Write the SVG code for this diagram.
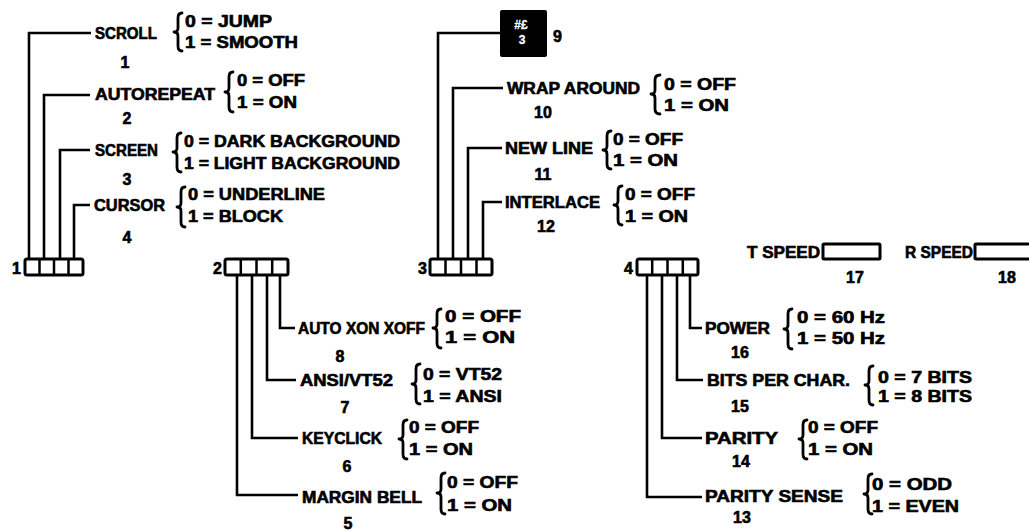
<svg xmlns="http://www.w3.org/2000/svg" width="1029" height="531" viewBox="0 0 1029 531">
<style>
text{font-family:"Liberation Sans",Arial,sans-serif;font-weight:bold;font-size:16px;fill:#000;stroke:#000;stroke-width:0.6}
.n{text-anchor:middle}
.sm{font-size:12px;fill:#fff;stroke:#fff;stroke-width:0.3;text-anchor:middle}
.c{fill:none;stroke:#000;stroke-width:2.6;stroke-linejoin:miter}
.br{fill:none;stroke:#000;stroke-width:2.8;stroke-linecap:round;stroke-linejoin:round}
.box{fill:#fff;stroke:#000;stroke-width:3}
.dv{stroke:#000;stroke-width:2.5}
</style>
<rect width="1029" height="531" fill="#fff"/>

<g id="connectors">
<path class="c" d="M29 259V33H91"/>
<path class="c" d="M44 259V95H90"/>
<path class="c" d="M60 259V150H90"/>
<path class="c" d="M74 259V205H90"/>
<path class="c" d="M438 259V33H500"/>
<path class="c" d="M453 259V88H503"/>
<path class="c" d="M468 259V148H502"/>
<path class="c" d="M483 259V202H502"/>
<path class="c" d="M237 275V495H298"/>
<path class="c" d="M252 275V438H298"/>
<path class="c" d="M267 275V380H296"/>
<path class="c" d="M280 275V328H295"/>
<path class="c" d="M647 275V497H702"/>
<path class="c" d="M662 275V438H702"/>
<path class="c" d="M677 275V380H703"/>
<path class="c" d="M690 275V328H702"/>
</g>

<g id="switch1">
<rect class="box" x="25" y="259" width="58" height="16" rx="2"/>
<path class="dv" d="M39.5 259V275M54 259V275M68.5 259V275"/>
<text x="12" y="274">1</text>
</g>
<g id="switch2">
<rect class="box" x="225" y="259" width="63" height="16" rx="2"/>
<path class="dv" d="M240.8 259V275M256.5 259V275M272.2 259V275"/>
<text x="213" y="274">2</text>
</g>
<g id="switch3">
<rect class="box" x="430" y="259" width="62" height="16" rx="2"/>
<path class="dv" d="M445.5 259V275M461 259V275M476.5 259V275"/>
<text x="418" y="274">3</text>
</g>
<g id="switch4">
<rect class="box" x="637" y="259" width="61" height="16" rx="2"/>
<path class="dv" d="M652.2 259V275M667.5 259V275M682.8 259V275"/>
<text x="624" y="274">4</text>
</g>

<g id="scroll">
<text x="95" y="39" textLength="62" lengthAdjust="spacingAndGlyphs">SCROLL</text>
<path class="br" d="M182 13Q178 13 178 18L178 28Q178 32 174 32Q178 32 178 36L178 46Q178 51 182 51"/>
<text x="185" y="27" textLength="87" lengthAdjust="spacingAndGlyphs">0 = JUMP</text>
<text x="185" y="48" textLength="113" lengthAdjust="spacingAndGlyphs">1 = SMOOTH</text>
<text class="n" x="125" y="68">1</text>
</g>
<g id="autorepeat">
<text x="95" y="100" textLength="120" lengthAdjust="spacingAndGlyphs">AUTOREPEAT</text>
<path class="br" d="M233 72Q229 72 229 77L229 88Q229 92 225 92Q229 92 229 96L229 107Q229 112 233 112"/>
<text x="237" y="86" textLength="68" lengthAdjust="spacingAndGlyphs">0 = OFF</text>
<text x="237" y="108" textLength="60" lengthAdjust="spacingAndGlyphs">1 = ON</text>
<text class="n" x="127" y="124">2</text>
</g>
<g id="screen">
<text x="95" y="156" textLength="63" lengthAdjust="spacingAndGlyphs">SCREEN</text>
<path class="br" d="M181 133Q177 133 177 138L177 148Q177 152 173 152Q177 152 177 156L177 167Q177 172 181 172"/>
<text x="184" y="147" textLength="216" lengthAdjust="spacingAndGlyphs">0 = DARK BACKGROUND</text>
<text x="184" y="169" textLength="216" lengthAdjust="spacingAndGlyphs">1 = LIGHT BACKGROUND</text>
<text class="n" x="127" y="185">3</text>
</g>
<g id="cursor">
<text x="94" y="211" textLength="71" lengthAdjust="spacingAndGlyphs">CURSOR</text>
<path class="br" d="M185 187Q181 187 181 192L181 203Q181 207 177 207Q181 207 181 211L181 222Q181 227 185 227"/>
<text x="188" y="200" textLength="137" lengthAdjust="spacingAndGlyphs">0 = UNDERLINE</text>
<text x="188" y="222" textLength="95" lengthAdjust="spacingAndGlyphs">1 = BLOCK</text>
<text class="n" x="127" y="243">4</text>
</g>

<g id="uk-charset">
<rect x="500" y="10" width="47" height="47" rx="2" fill="#000"/>
<text class="sm" x="521" y="29">#£</text>
<text class="sm" x="522" y="44" font-size="14">3</text>
<text x="553" y="42">9</text>
</g>
<g id="wraparound">
<text x="507" y="94" textLength="133" lengthAdjust="spacingAndGlyphs">WRAP AROUND</text>
<path class="br" d="M660 75Q655 75 655 80L655 90Q655 94 651 94Q655 94 655 98L655 109Q655 114 660 114"/>
<text x="664" y="90" textLength="72" lengthAdjust="spacingAndGlyphs">0 = OFF</text>
<text x="664" y="111" textLength="65" lengthAdjust="spacingAndGlyphs">1 = ON</text>
<text class="n" x="543" y="118">10</text>
</g>
<g id="newline">
<text x="505" y="154" textLength="88" lengthAdjust="spacingAndGlyphs">NEW LINE</text>
<path class="br" d="M611 131Q607 131 607 136L607 146Q607 150 603 150Q607 150 607 154L607 164Q607 169 611 169"/>
<text x="613" y="145" textLength="70" lengthAdjust="spacingAndGlyphs">0 = OFF</text>
<text x="613" y="166" textLength="65" lengthAdjust="spacingAndGlyphs">1 = ON</text>
<text class="n" x="543" y="180">11</text>
</g>
<g id="interlace">
<text x="505" y="208" textLength="95" lengthAdjust="spacingAndGlyphs">INTERLACE</text>
<path class="br" d="M622 186Q618 186 618 191L618 201Q618 205 614 205Q618 205 618 209L618 220Q618 225 622 225"/>
<text x="625" y="200" textLength="70" lengthAdjust="spacingAndGlyphs">0 = OFF</text>
<text x="625" y="222" textLength="63" lengthAdjust="spacingAndGlyphs">1 = ON</text>
<text class="n" x="546" y="232">12</text>
</g>

<g id="autoxon">
<text x="298" y="334" textLength="127" lengthAdjust="spacingAndGlyphs">AUTO XON XOFF</text>
<path class="br" d="M441 309Q437 309 437 314L437 324Q437 328 433 328Q437 328 437 332L437 343Q437 348 441 348"/>
<text x="445" y="322" textLength="76" lengthAdjust="spacingAndGlyphs">0 = OFF</text>
<text x="445" y="343" textLength="70" lengthAdjust="spacingAndGlyphs">1 = ON</text>
<text class="n" x="340" y="362">8</text>
</g>
<g id="ansi">
<text x="300" y="386" textLength="93" lengthAdjust="spacingAndGlyphs">ANSI/VT52</text>
<path class="br" d="M420 364Q416 364 416 369L416 380Q416 384 412 384Q416 384 416 388L416 399Q416 404 420 404"/>
<text x="423" y="380" textLength="79" lengthAdjust="spacingAndGlyphs">0 = VT52</text>
<text x="423" y="402" textLength="79" lengthAdjust="spacingAndGlyphs">1 = ANSI</text>
<text class="n" x="345" y="413">7</text>
</g>
<g id="keyclick">
<text x="302" y="444" textLength="80" lengthAdjust="spacingAndGlyphs">KEYCLICK</text>
<path class="br" d="M407 420Q403 420 403 425L403 435Q403 439 399 439Q403 439 403 443L403 454Q403 459 407 459"/>
<text x="409" y="433" textLength="70" lengthAdjust="spacingAndGlyphs">0 = OFF</text>
<text x="409" y="455" textLength="64" lengthAdjust="spacingAndGlyphs">1 = ON</text>
<text class="n" x="347" y="472">6</text>
</g>
<g id="marginbell">
<text x="302" y="503" textLength="120" lengthAdjust="spacingAndGlyphs">MARGIN BELL</text>
<path class="br" d="M445 473Q441 473 441 478L441 489Q441 493 437 493Q441 493 441 497L441 509Q441 514 445 514"/>
<text x="447" y="488" textLength="71" lengthAdjust="spacingAndGlyphs">0 = OFF</text>
<text x="447" y="511" textLength="65" lengthAdjust="spacingAndGlyphs">1 = ON</text>
<text class="n" x="348" y="529">5</text>
</g>

<g id="power">
<text x="705" y="334" textLength="65" lengthAdjust="spacingAndGlyphs">POWER</text>
<path class="br" d="M792 309Q788 309 788 314L788 325Q788 329 784 329Q788 329 788 333L788 344Q788 349 792 349"/>
<text x="797" y="323" textLength="88" lengthAdjust="spacingAndGlyphs">0 = 60 Hz</text>
<text x="797" y="344" textLength="88" lengthAdjust="spacingAndGlyphs">1 = 50 Hz</text>
<text class="n" x="740" y="358">16</text>
</g>
<g id="bitsperchar">
<text x="707" y="386" textLength="143" lengthAdjust="spacingAndGlyphs">BITS PER CHAR.</text>
<path class="br" d="M873 366Q869 366 869 371L869 381Q869 385 865 385Q869 385 869 389L869 400Q869 405 873 405"/>
<text x="878" y="383" textLength="94" lengthAdjust="spacingAndGlyphs">0 = 7 BITS</text>
<text x="878" y="402" textLength="94" lengthAdjust="spacingAndGlyphs">1 = 8 BITS</text>
<text class="n" x="740" y="412">15</text>
</g>
<g id="parity">
<text x="705" y="444" textLength="73" lengthAdjust="spacingAndGlyphs">PARITY</text>
<path class="br" d="M807 420Q803 420 803 425L803 435Q803 439 799 439Q803 439 803 443L803 454Q803 459 807 459"/>
<text x="808" y="433" textLength="70" lengthAdjust="spacingAndGlyphs">0 = OFF</text>
<text x="808" y="455" textLength="65" lengthAdjust="spacingAndGlyphs">1 = ON</text>
<text class="n" x="741" y="467">14</text>
</g>
<g id="paritysense">
<text x="705" y="502" textLength="138" lengthAdjust="spacingAndGlyphs">PARITY SENSE</text>
<path class="br" d="M872 474Q868 474 868 479L868 490Q868 494 864 494Q868 494 868 498L868 509Q868 514 872 514"/>
<text x="872" y="490" textLength="80" lengthAdjust="spacingAndGlyphs">0 = ODD</text>
<text x="872" y="512" textLength="87" lengthAdjust="spacingAndGlyphs">1 = EVEN</text>
<text class="n" x="742" y="523">13</text>
</g>

<g id="tspeed">
<text x="747" y="258" textLength="73" lengthAdjust="spacingAndGlyphs">T SPEED</text>
<rect class="box" x="823" y="244" width="57" height="15" rx="1"/>
<text class="n" x="855" y="283">17</text>
</g>
<g id="rspeed">
<text x="905" y="258" textLength="68" lengthAdjust="spacingAndGlyphs">R SPEED</text>
<rect class="box" x="975" y="244" width="62" height="15" rx="1"/>
<text class="n" x="1007" y="283">18</text>
</g>
</svg>
